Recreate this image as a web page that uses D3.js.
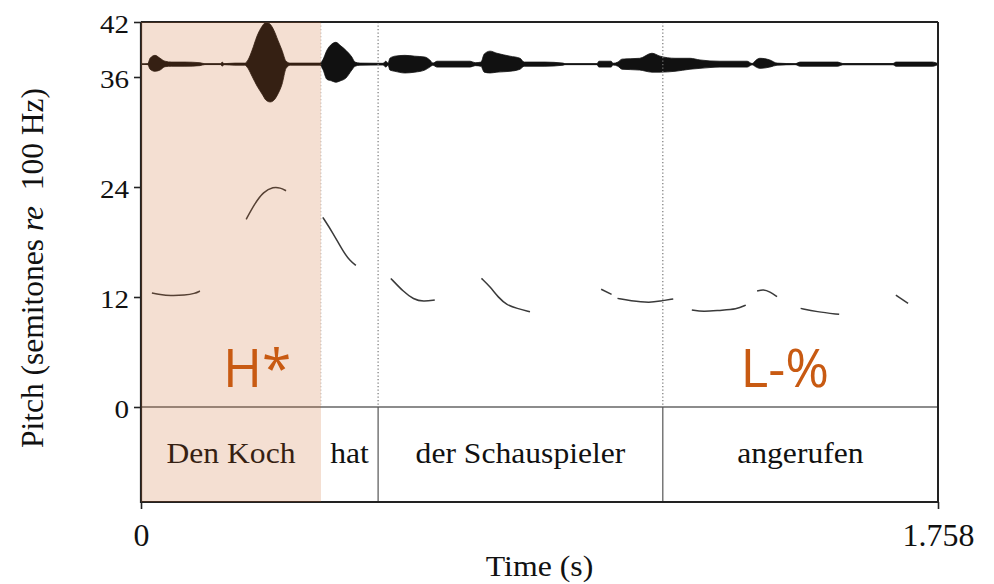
<!DOCTYPE html>
<html><head><meta charset="utf-8">
<script src="https://cdn.jsdelivr.net/npm/d3@7"></script>
<style>
html,body{margin:0;padding:0;background:#fff;}
svg{display:block;}
.serif{font-family:"Liberation Serif","Times New Roman",Times,serif;fill:#111;}
</style></head>
<body>
<svg id="chart" width="994" height="584"></svg>
<script>
// ---------- data ----------
const yTickValues = [0, 12, 24, 36, 42];
const xTickValues = [0, 1.758];
const words = ["Den Koch", "hat", "der Schauspieler", "angerufen"];
const wordBounds = [0, 0.397, 0.523, 1.151, 1.758];
const tones = ["H*", "L-%"];
const toneTimes = [0.256, 1.42];
const highlightSpan = [0, 0.397];
const waveCenter = 37.4; // semitone level of waveform baseline
// waveform envelope: time (s), upper amplitude, lower amplitude (normalised)
const waveT  = [0,0.015,0.020,0.031,0.042,0.053,0.068,0.097,0.130,0.141,0.176,0.179,0.183,0.207,0.229,0.236,0.245,0.256,0.267,0.276,0.285,0.293,0.302,0.311,0.320,0.329,0.395,0.401,0.410,0.421,0.430,0.439,0.452,0.465,0.472,0.483,0.534,0.540,0.545,0.549,0.560,0.582,0.604,0.626,0.637,0.644,0.653,0.726,0.737,0.750,0.757,0.770,0.785,0.814,0.836,0.845,0.891,0.931,0.935,1.006,1.010,1.037,1.041,1.052,1.061,1.100,1.127,1.145,1.178,1.211,1.233,1.277,1.337,1.348,1.357,1.365,1.387,1.403,1.443,1.454,1.537,1.548,1.659,1.665,1.745,1.758];
const waveUp = [0,0.012,0.14,0.21,0.14,0.07,0.05,0.05,0.035,0.01,0.01,0.05,0.012,0.025,0.025,0.1,0.33,0.67,0.9,1.0,0.95,0.81,0.57,0.33,0.07,0.025,0.025,0.1,0.33,0.48,0.52,0.45,0.33,0.17,0.05,0.025,0.02,0.07,0.025,0.14,0.19,0.21,0.19,0.17,0.1,0.025,0.07,0.07,0.035,0.05,0.24,0.31,0.26,0.19,0.14,0.05,0.05,0.025,0.012,0.012,0.07,0.07,0.02,0.05,0.12,0.14,0.26,0.19,0.14,0.14,0.1,0.07,0.07,0.015,0.1,0.14,0.1,0.025,0.012,0.05,0.05,0.015,0.015,0.05,0.05,0.012];
const waveDown = [0,0.012,0.12,0.17,0.14,0.06,0.05,0.05,0.035,0.01,0.01,0.05,0.012,0.025,0.025,0.1,0.29,0.52,0.71,0.86,0.9,0.86,0.71,0.48,0.1,0.025,0.025,0.12,0.36,0.4,0.43,0.4,0.33,0.14,0.05,0.025,0.02,0.07,0.025,0.14,0.17,0.21,0.19,0.14,0.07,0.025,0.07,0.07,0.035,0.05,0.19,0.21,0.19,0.17,0.12,0.05,0.05,0.025,0.012,0.012,0.07,0.07,0.02,0.05,0.12,0.14,0.19,0.19,0.17,0.12,0.1,0.07,0.07,0.015,0.07,0.1,0.07,0.025,0.012,0.05,0.05,0.015,0.015,0.05,0.05,0.012];
// pitch track segments: [time (s), semitones re 100 Hz]
const pitchSegments = [
  [[0.024,12.43],[0.042,12.27],[0.064,12.14],[0.097,12.2],[0.119,12.38],[0.130,12.65]],
  [[0.232,20.47],[0.251,22.2],[0.270,23.48],[0.292,24.02],[0.307,23.91],[0.320,23.59]],
  [[0.401,20.69],[0.424,18.94],[0.446,16.94],[0.461,15.95],[0.474,15.45]],
  [[0.551,14.03],[0.579,12.57],[0.601,11.74],[0.623,11.48],[0.648,11.67]],
  [[0.751,14.03],[0.770,13.12],[0.788,11.96],[0.807,11.12],[0.829,10.76],[0.858,10.39]],
  [[1.015,12.84],[1.038,12.29]],
  [[1.051,11.85],[1.079,11.59],[1.123,11.37],[1.145,11.56],[1.174,11.78]],
  [[1.215,10.58],[1.240,10.39],[1.277,10.55],[1.314,10.65],[1.334,11.12]],
  [[1.359,12.65],[1.373,12.84],[1.387,12.57],[1.403,12.03]],
  [[1.455,10.76],[1.490,10.39],[1.540,10.11]],
  [[1.665,12.21],[1.692,11.31]]
];

// ---------- layout ----------
const L = 141, R = 938, T = 22, P0 = 407, B = 502;
const SERIF = "Liberation Serif, Times New Roman, serif";
const svg = d3.select("#chart");
const x = d3.scaleLinear().domain([0, 1.758]).range([L, R]);
const y = d3.scaleLinear().domain([0, 42]).range([P0, T]);
const amp = d3.scaleLinear().domain([0, 1]).range([0, 42]);

// waveform
const wave = waveT.map((t, i) => ({t, u: waveUp[i], d: waveDown[i]}));
const yc = y(waveCenter);
svg.append("line").attr("x1", L).attr("x2", R).attr("y1", yc).attr("y2", yc)
  .attr("stroke", "#111").attr("stroke-width", 1.3);
svg.append("path").datum(wave)
  .attr("d", d3.area().x(d => x(d.t)).y0(d => yc + amp(d.d)).y1(d => yc - amp(d.u)).curve(d3.curveMonotoneX))
  .attr("fill", "#111").attr("stroke", "#111").attr("stroke-width", 0.8);

// dotted boundaries in pitch panel
const inner = wordBounds.slice(1, -1);
svg.selectAll("line.dot").data(inner).join("line").attr("class", "dot")
  .attr("x1", d => x(d)).attr("x2", d => x(d)).attr("y1", T).attr("y2", P0)
  .attr("stroke", "#777").attr("stroke-width", 1.2).attr("stroke-dasharray", "1.2,2.3")
  .attr("opacity", (d, i) => i === 0 ? 0.35 : 1);

// pitch track
const line = d3.line().x(d => x(d[0])).y(d => y(d[1])).curve(d3.curveBasis);
svg.selectAll("path.pitch").data(pitchSegments).join("path").attr("class", "pitch")
  .attr("d", line).attr("fill", "none").attr("stroke", "#3a3a3a").attr("stroke-width", 1.5);

// tier
svg.append("line").attr("x1", L).attr("x2", R).attr("y1", P0).attr("y2", P0)
  .attr("stroke", "#666").attr("stroke-width", 1.3);
svg.selectAll("line.tb").data(wordBounds.slice(2, -1)).join("line").attr("class", "tb")
  .attr("x1", d => x(d)).attr("x2", d => x(d)).attr("y1", P0).attr("y2", B)
  .attr("stroke", "#555").attr("stroke-width", 1.2);
svg.selectAll("text.word").data(words).join("text").attr("class", "word serif")
  .attr("transform", (d, i) => `translate(${x((wordBounds[i] + wordBounds[i + 1]) / 2)},463) scale(1.09,1)`)
  .attr("text-anchor", "middle").attr("font-size", 29).text(d => d);

// frame
svg.append("line").attr("x1", L).attr("x2", R).attr("y1", T).attr("y2", T).attr("stroke", "#222").attr("stroke-width", 2);
svg.append("line").attr("x1", R).attr("x2", R).attr("y1", T).attr("y2", B).attr("stroke", "#222").attr("stroke-width", 2);
svg.append("line").attr("x1", L).attr("x2", R).attr("y1", B).attr("y2", B).attr("stroke", "#222").attr("stroke-width", 2);
svg.append("line").attr("x1", L).attr("x2", L).attr("y1", T).attr("y2", B + 1).attr("stroke", "#222").attr("stroke-width", 2.2);

// y axis
const yAxis = svg.append("g").attr("transform", `translate(${L},0)`)
  .call(d3.axisLeft(y).tickValues(yTickValues).tickSize(7).tickPadding(5).tickFormat(d3.format("d")));
yAxis.select(".domain").remove();
yAxis.selectAll(".tick line").attr("stroke", "#222").attr("stroke-width", 1.6);
yAxis.selectAll(".tick text").attr("font-size", 26).attr("fill", "#111")
  .attr("font-family", SERIF).attr("dy", "0.4em").attr("x", null)
  .attr("transform", "translate(-12,0) scale(1.12,1)");

// x axis
const xAxis = svg.append("g").attr("transform", `translate(0,${B})`)
  .call(d3.axisBottom(x).tickValues(xTickValues).tickSize(7).tickPadding(9).tickFormat(d => d === 0 ? "0" : d3.format(".3f")(d)));
xAxis.select(".domain").remove();
xAxis.selectAll(".tick line").attr("stroke", "#222").attr("stroke-width", 1.6);
xAxis.selectAll(".tick text").attr("font-size", 31).attr("fill", "#111")
  .attr("font-family", SERIF).attr("dy", "0.9em").attr("y", null)
  .attr("transform", "translate(0,16) scale(1.03,1)");

// highlight overlay
svg.append("rect").attr("x", x(highlightSpan[0])).attr("width", x(highlightSpan[1]) - x(highlightSpan[0]))
  .attr("y", T).attr("height", B - T).attr("fill", "rgb(200,95,30)").attr("opacity", 0.2);

// tone labels
svg.selectAll("text.tone").data(tones).join("text").attr("class", "tone")
  .attr("x", (d, i) => x(toneTimes[i])).attr("y", 387).attr("text-anchor", "middle")
  .attr("font-family", "Open Sans, Noto Sans, sans-serif").attr("font-size", 53)
  .attr("fill", "#c85a12").text(d => d);

// axis titles
svg.append("text").attr("class", "serif")
  .attr("transform", `translate(${(L + R) / 2},576) scale(1.06,1)`)
  .attr("text-anchor", "middle").attr("font-size", 30).text("Time (s)");
const yt = svg.append("text").attr("class", "serif")
  .attr("transform", `translate(43,268) rotate(-90)`)
  .attr("text-anchor", "middle").attr("font-size", 31.5);
yt.append("tspan").text("Pitch (semitones ");
yt.append("tspan").attr("font-style", "italic").text("re");
yt.append("tspan").text("\u00a0 100 Hz)");
</script>
</body></html>
